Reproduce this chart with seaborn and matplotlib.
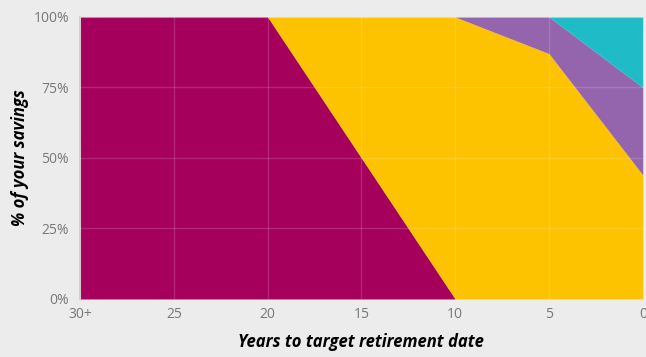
import matplotlib
matplotlib.use("Agg")
import matplotlib.pyplot as plt
import seaborn as sns
import numpy as np

# data (share of savings, %)
years = [30, 25, 20, 15, 10, 5, 0]
year_labels = ["30+", "25", "20", "15", "10", "5", "0"]
magenta = [100, 100, 100, 50, 0, 0, 0]
yellow = [0, 0, 0, 50, 100, 87, 44]
purple = [0, 0, 0, 0, 0, 13, 31]
teal = [0, 0, 0, 0, 0, 0, 25]
colors = ["#a6005d", "#fdc300", "#9464ac", "#1fbcc8"]

sns.set_theme(style="whitegrid")
plt.rcParams["font.family"] = ["Open Sans", "DejaVu Sans"]

fig = plt.figure(figsize=(6.46, 3.57), dpi=100, facecolor="#ececec")
ax = fig.add_axes([0.124, 0.1625, 0.871, 0.79])
ax.set_facecolor("#ececec")

ax.stackplot(years, magenta, yellow, purple, teal, colors=colors, linewidth=0)

ax.set_xlim(30, 0)
ax.set_ylim(0, 100)
ax.set_xticks(years)
ax.set_xticklabels(year_labels)
ax.set_yticks([0, 25, 50, 75, 100])
ax.set_yticklabels(["0%", "25%", "50%", "75%", "100%"])
ax.tick_params(axis="both", labelsize=10, labelcolor="#777777", length=0)
ax.tick_params(axis="x", pad=6)
ax.tick_params(axis="y", pad=8)

ax.set_axisbelow(False)
ax.grid(True, color="white", alpha=0.15, linewidth=1)
for s in ax.spines.values():
    s.set_visible(False)
ax.spines["left"].set_visible(True)
ax.spines["left"].set_color("#cccccc")

ax.set_xlabel("Years to target retirement date", fontsize=12, fontweight="bold",
              style="italic", color="black", labelpad=8)
ax.set_ylabel("% of your savings", fontsize=12, fontweight="bold",
              style="italic", color="black", labelpad=3)

fig.savefig("out.png", dpi=100, facecolor=fig.get_facecolor())
